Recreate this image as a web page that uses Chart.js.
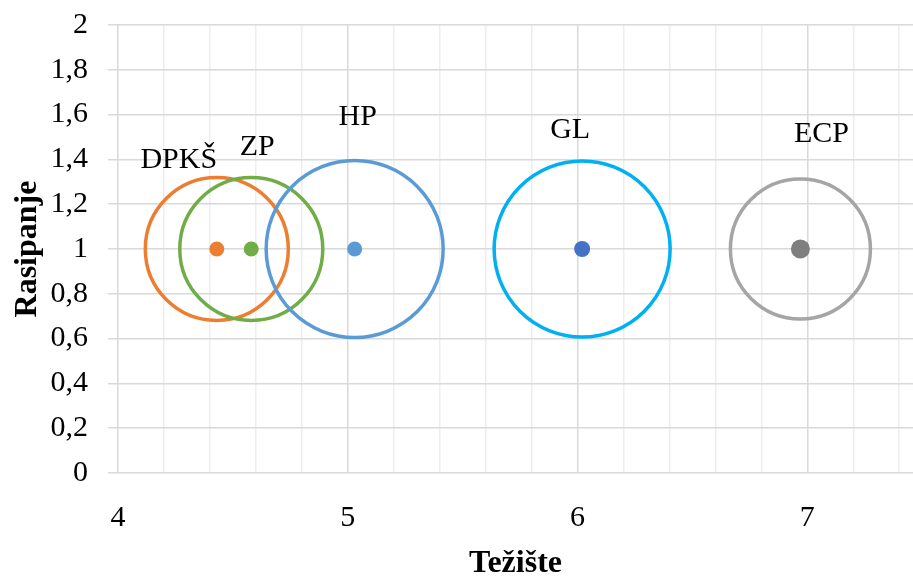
<!DOCTYPE html>
<html>
<head>
<meta charset="utf-8">
<script src="https://cdn.jsdelivr.net/npm/chart.js@4/dist/chart.umd.min.js"></script>
<style>
  html, body { margin: 0; padding: 0; background: #fff; }
  #wrap { width: 913px; height: 580px; }
</style>
</head>
<body>
<div id="wrap"><canvas id="chart" width="913" height="580"></canvas></div>
<script>
// bubble groups: centre (težište, rasipanje) and ring size
const groupNames  = ['DPKŠ', 'ZP', 'HP', 'GL', 'ECP'];
const centreX     = [4.43, 4.58, 5.03, 6.02, 6.97];
const centreY     = [1, 1, 1, 1, 1];
const ringSize    = [71.5, 71.5, 88.5, 88, 70];   // bubble radius (px)

const xTicksMin = 4, xTicksMax = 7.46, xStep = 0.2;
const yTicksMin = 0, yTicksMax = 2, yStep = 0.2;

const RING_COLORS = ['#ED7D31', '#70AD47', '#5B9BD5', '#00B0F0', '#A5A5A5'];
const DOT_COLORS  = ['#ED7D31', '#70AD47', '#5B9BD5', '#4472C4', '#7F7F7F'];
const DOT_RADII   = [7.5, 7.5, 7.5, 8, 9.5];
// label offset from the centre dot (px): [dx, baseline dy]
const LABEL_OFFSETS = [[-38, -81], [6, -94], [3, -124], [-12, -111], [21, -107]];

const SERIF = "'Liberation Serif', 'Times New Roman', serif";
const GRID_MAJOR = '#d9d9d9';
const GRID_MINOR = '#eeeeee';

const isWhole = v => Math.abs(v - Math.round(v)) < 1e-6;
const fmtComma = v => String(Math.round(v * 10) / 10).replace('.', ',');

const groupLabels = {
  id: 'groupLabels',
  afterDatasetsDraw(chart) {
    const meta = chart.getDatasetMeta(0);
    const ctx = chart.ctx;
    ctx.save();
    ctx.font = '30px ' + SERIF;
    ctx.fillStyle = '#000';
    ctx.textAlign = 'center';
    ctx.textBaseline = 'alphabetic';
    meta.data.forEach((pt, i) => {
      const [dx, dy] = LABEL_OFFSETS[i];
      ctx.fillText(groupNames[i], pt.x + dx, pt.y + dy);
    });
    ctx.restore();
  }
};

new Chart(document.getElementById('chart'), {
  data: {
    datasets: [
      {
        type: 'scatter',
        label: 'centres',
        order: 0,
        data: centreX.map((x, i) => ({ x, y: centreY[i] })),
        pointBackgroundColor: DOT_COLORS,
        pointBorderWidth: 0,
        pointRadius: DOT_RADII,
      },
      {
        type: 'bubble',
        label: 'rings',
        order: 1,
        data: centreX.map((x, i) => ({ x, y: centreY[i], r: ringSize[i] })),
        backgroundColor: 'rgba(0,0,0,0)',
        borderColor: RING_COLORS,
        borderWidth: 3.5,
        clip: false,
      },
    ],
  },
  options: {
    responsive: false,
    animation: false,
    events: [],
    layout: { autoPadding: false, padding: { top: 25, right: 0, left: 0, bottom: 0 } },
    plugins: {
      legend: { display: false },
      tooltip: { enabled: false },
    },
    scales: {
      x: {
        type: 'linear',
        min: xTicksMin,
        max: xTicksMax,
        afterFit(scale) {
          scale.height = 107;
          scale.paddingLeft = 0;
          scale.paddingRight = 0;
        },
        ticks: {
          stepSize: xStep,
          autoSkip: false,
          includeBounds: false,
          maxRotation: 0,
          padding: 27,
          color: '#000',
          font: { family: SERIF, size: 30 },
          callback: v => (isWhole(v) ? String(Math.round(v)) : ''),
        },
        grid: {
          drawTicks: false,
          lineWidth: 1.5,
          color: c => (c.tick && isWhole(c.tick.value) ? GRID_MAJOR : GRID_MINOR),
        },
        border: { display: false },
        title: {
          display: true,
          text: 'Težište',
          color: '#000',
          font: { family: SERIF, size: 32, weight: 'bold', lineHeight: 1 },
          padding: { top: 0, bottom: 0 },
        },
      },
      y: {
        type: 'linear',
        min: yTicksMin,
        max: yTicksMax,
        afterFit(scale) {
          scale.width = 118;
          scale.paddingTop = 0;
          scale.paddingBottom = 0;
        },
        ticks: {
          stepSize: yStep,
          autoSkip: false,
          padding: 20,
          color: '#000',
          font: { family: SERIF, size: 30 },
          callback: v => fmtComma(v),
        },
        grid: {
          color: GRID_MAJOR,
          lineWidth: 1.5,
          tickLength: 10,
        },
        border: { display: false },
        title: {
          display: true,
          text: 'Rasipanje',
          color: '#000',
          font: { family: SERIF, size: 32, weight: 'bold', lineHeight: 1 },
          padding: { top: 12, bottom: 0 },
        },
      },
    },
  },
  plugins: [groupLabels],
});
</script>
</body>
</html>
